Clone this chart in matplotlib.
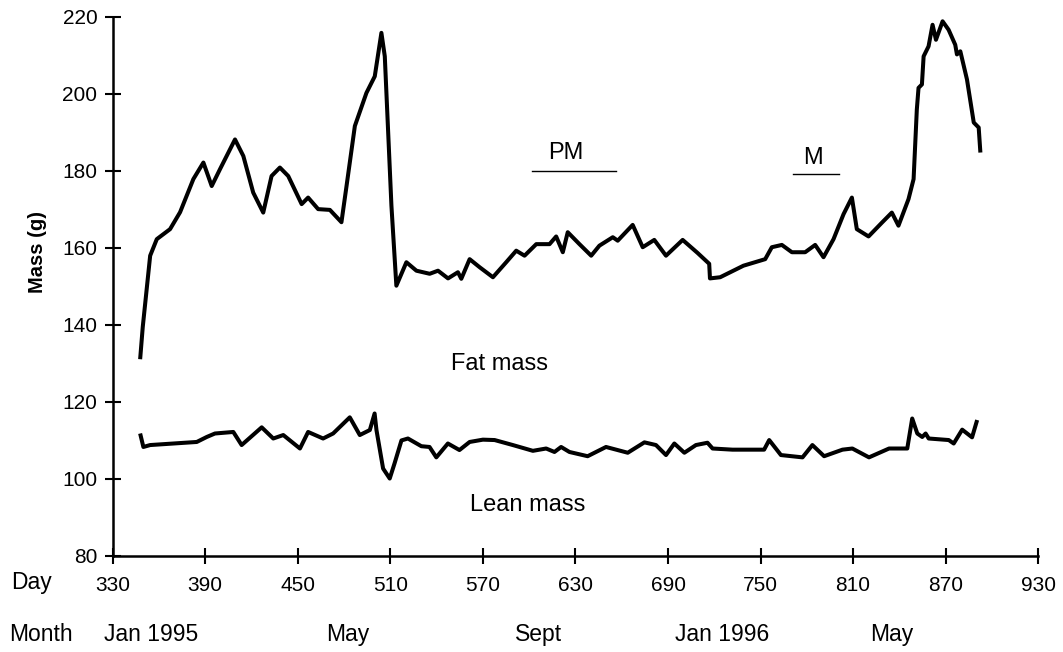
import matplotlib.pyplot as plt
from matplotlib.transforms import blended_transform_factory

plt.rcParams['font.family'] = ['Liberation Sans', 'DejaVu Sans']

# Fat mass trace (day, grams)
fat_day = [347.8, 349.5, 354.3, 358.6, 367.2, 373.7, 382.3, 388.8, 394.2, 399.6,
           409.3, 414.7, 421.1, 427.6, 433.0, 438.4, 443.8, 452.5, 456.7, 463.2,
           470.8, 478.3, 481.6, 487.0, 494.5, 499.9, 504.2, 506.4, 510.7, 513.9,
           520.4, 526.9, 535.5, 540.9, 547.4, 553.8, 556.0, 561.4, 567.9, 576.5,
           585.1, 591.6, 597.0, 604.6, 613.2, 617.5, 621.8, 625.0, 632.6, 640.2,
           645.5, 654.2, 657.4, 667.1, 673.6, 681.1, 688.7, 699.5, 709.2, 716.7,
           717.2, 723.8, 738.9, 753.0, 757.3, 763.8, 770.3, 778.9, 785.4, 790.8,
           797.3, 803.8, 809.2, 812.4, 820.0, 828.7, 835.1, 839.4, 845.9, 849.2,
           851.3, 852.4, 854.6, 855.7, 858.9, 861.5, 863.7, 868.0, 871.9, 876.2,
           877.3, 879.5, 883.8, 888.2, 891.4, 892.5]
fat_mass = [131.0, 139.4, 157.9, 162.2, 164.8, 169.2, 177.8, 182.1, 176.0, 180.4,
            188.1, 183.8, 174.3, 169.1, 178.6, 180.8, 178.6, 171.3, 173.0, 170.0,
            169.8, 166.6, 176.0, 191.6, 200.2, 204.5, 215.8, 209.7, 170.9, 150.1,
            156.2, 154.0, 153.2, 154.0, 152.0, 153.6, 151.9, 157.0, 154.9, 152.3,
            156.2, 159.2, 157.9, 160.9, 160.9, 162.9, 158.8, 164.0, 160.9, 157.9,
            160.5, 162.7, 161.8, 165.9, 160.1, 162.0, 157.9, 162.0, 158.6, 155.8,
            152.0, 152.3, 155.3, 157.0, 160.1, 160.7, 158.8, 158.8, 160.7, 157.5,
            162.2, 168.7, 173.0, 164.8, 162.9, 166.5, 169.1, 165.7, 172.6, 177.8,
            195.9, 201.5, 202.4, 209.7, 212.3, 217.9, 214.0, 218.8, 216.6, 212.7,
            210.2, 211.0, 203.7, 192.5, 191.2, 184.7]

# Lean mass trace (day, grams)
lean_day = [347.8, 349.9, 354.3, 384.5, 391.0, 396.3, 408.2, 413.6, 426.6, 434.1,
            440.6, 451.4, 456.7, 466.4, 472.9, 483.7, 490.2, 496.7, 499.8, 501.0,
            505.3, 509.6, 512.7, 517.2, 521.4, 530.1, 535.4, 539.8, 547.3, 554.8,
            561.4, 570.0, 577.6, 589.4, 602.4, 611.0, 616.4, 620.7, 626.1, 637.9,
            649.8, 663.9, 674.7, 682.2, 688.7, 694.1, 700.6, 708.1, 715.6, 718.9,
            731.8, 752.3, 755.6, 763.2, 777.2, 783.6, 791.2, 803.1, 809.5, 820.3,
            833.3, 845.1, 848.3, 851.6, 854.8, 857.0, 859.0, 872.0, 875.2, 880.7,
            887.1, 890.4]
lean_mass = [111.7, 108.2, 108.7, 109.5, 110.8, 111.7, 112.1, 108.7, 113.3, 110.4,
             111.3, 107.8, 112.1, 110.4, 111.7, 115.9, 111.3, 112.6, 116.9, 112.6,
             102.6, 100.0, 103.9, 109.9, 110.4, 108.4, 108.2, 105.5, 109.1, 107.4,
             109.5, 110.1, 110.0, 108.7, 107.2, 107.8, 106.9, 108.2, 106.9, 105.8,
             108.2, 106.7, 109.4, 108.7, 106.1, 109.1, 106.7, 108.7, 109.3, 107.8,
             107.5, 107.5, 110.0, 106.1, 105.5, 108.7, 105.8, 107.5, 107.8, 105.5,
             107.8, 107.8, 115.6, 111.7, 110.8, 111.7, 110.4, 110.0, 109.1, 112.7,
             110.7, 115.2]

day_ticks = list(range(330, 931, 60))
mass_ticks = list(range(80, 221, 20))
month_names = ['Jan 1995', 'May', 'Sept', 'Jan 1996', 'May']
month_days = [354.8, 482.2, 606.3, 725.3, 834.8]

fig = plt.figure(figsize=(10.63, 6.52), dpi=100)
ax = fig.add_axes([0.1060, 0.148, 0.8707, 0.8264])

ax.plot(fat_day, fat_mass, color='black', lw=2.9, solid_joinstyle='round', solid_capstyle='butt')
ax.plot(lean_day, lean_mass, color='black', lw=2.9, solid_joinstyle='round', solid_capstyle='butt')

ax.set_xlim(330, 930)
ax.set_ylim(80, 220)
ax.set_xticks(day_ticks)
ax.set_yticks(mass_ticks)
ax.tick_params(direction='inout', length=12, width=1.5, labelsize=15, pad=5)
ax.tick_params(axis='x', pad=9)
for side in ['top', 'right']:
    ax.spines[side].set_visible(False)
for side in ['left', 'bottom']:
    ax.spines[side].set_linewidth(1.8)

ax.set_ylabel('Mass (g)', fontsize=14.5, fontweight='bold')
ax.yaxis.set_label_coords(-0.071, 0.564)

# series labels and period bars
ax.text(581, 129.7, 'Fat mass', fontsize=17, ha='center', va='center')
ax.text(599, 93.0, 'Lean mass', fontsize=17, ha='center', va='center')
ax.text(623.6, 184.7, 'PM', fontsize=17, ha='center', va='center')
ax.plot([602, 656], [180, 180], color='black', lw=1)
ax.text(783.7, 183.4, 'M', fontsize=17, ha='center', va='center')
ax.plot([771, 801], [179.2, 179.2], color='black', lw=1)

# row captions below the axis
fig.text(11 / 1063, 1 - 589 / 652, 'Day', fontsize=16.5, ha='left', va='baseline')
fig.text(9 / 1063, 1 - 641 / 652, 'Month', fontsize=16.5, ha='left', va='baseline')
month_tr = blended_transform_factory(ax.transData, fig.transFigure)
for name, d in zip(month_names, month_days):
    ax.text(d, 1 - 641 / 652, name, fontsize=16.5, ha='center', va='baseline',
            transform=month_tr)

fig.savefig('out.png', dpi=100)
